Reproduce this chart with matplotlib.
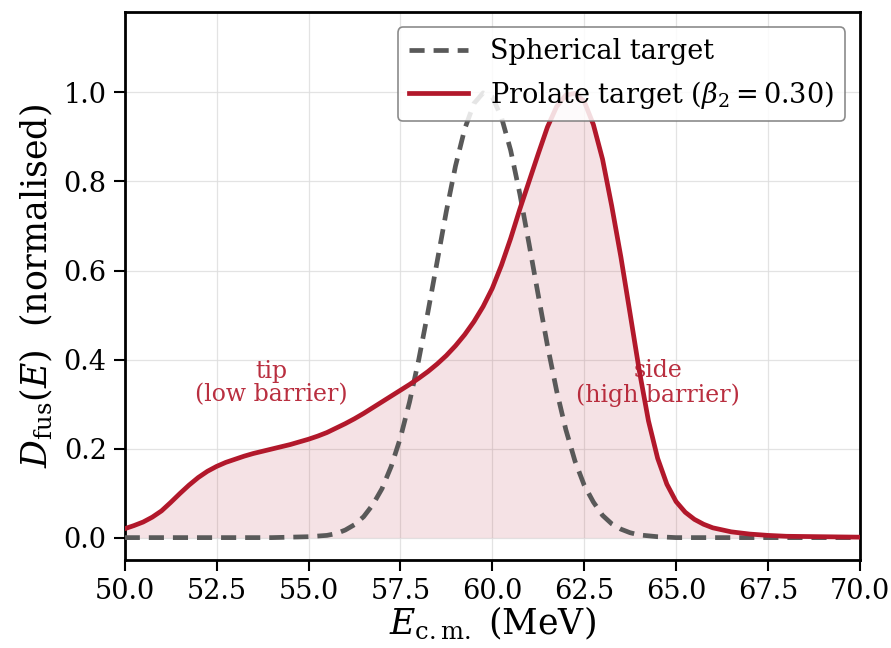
import matplotlib
matplotlib.use("Agg")
import matplotlib.pyplot as plt

plt.rcParams['font.family'] = 'DejaVu Serif'
plt.rcParams['mathtext.fontset'] = 'dejavuserif'

# Spherical target barrier distribution
e_sph = [50.0, 54.0, 55.0, 55.5, 55.75, 56.0, 56.25, 56.5, 56.75, 57.0, 57.25,
         57.5, 57.75, 58.0, 58.25, 58.5, 58.75, 59.0, 59.25, 59.5, 59.75,
         60.0, 60.25, 60.5, 60.75, 61.0, 61.25, 61.5, 61.75, 62.0, 62.25,
         62.5, 62.75, 63.0, 63.25, 63.5, 63.75, 64.0, 64.5, 65.0, 70.0]
d_sph = [0.0, 0.0, 0.002, 0.005, 0.009, 0.017, 0.029, 0.047, 0.074, 0.11, 0.16,
         0.224, 0.305, 0.40, 0.507, 0.62, 0.733, 0.835, 0.918, 0.975, 0.999,
         0.99, 0.944, 0.87, 0.772, 0.66, 0.545, 0.432, 0.33, 0.243, 0.172,
         0.118, 0.08, 0.05, 0.031, 0.019, 0.011, 0.006, 0.002, 0.0, 0.0]

# Prolate target (beta2 = 0.30)
e_pro = [50.0, 50.25, 50.5, 50.75, 51.0, 51.25, 51.5, 51.75, 52.0, 52.25,
         52.5, 52.75, 53.0, 53.25, 53.5, 53.75, 54.0, 54.25, 54.5, 54.75,
         55.0, 55.25, 55.5, 55.75, 56.0, 56.25, 56.5, 56.75, 57.0, 57.25,
         57.5, 57.75, 58.0, 58.25, 58.5, 58.75, 59.0, 59.25, 59.5, 59.75,
         60.0, 60.25, 60.5, 60.75, 61.0, 61.25, 61.5, 61.75, 62.0, 62.25,
         62.5, 62.75, 63.0, 63.25, 63.5, 63.75, 64.0, 64.25, 64.5, 64.75,
         65.0, 65.25, 65.5, 65.75, 66.0, 66.5, 67.0, 67.5, 68.0, 69.0, 70.0]
d_pro = [0.020, 0.027, 0.035, 0.046, 0.060, 0.079, 0.099, 0.118, 0.135, 0.149,
         0.160, 0.169, 0.176, 0.183, 0.189, 0.194, 0.199, 0.204, 0.209, 0.215,
         0.221, 0.228, 0.236, 0.246, 0.256, 0.267, 0.279, 0.292, 0.305, 0.318,
         0.331, 0.344, 0.358, 0.373, 0.390, 0.409, 0.431, 0.456, 0.485, 0.519,
         0.560, 0.612, 0.672, 0.738, 0.800, 0.862, 0.922, 0.968, 0.994, 0.998,
         0.980, 0.928, 0.850, 0.745, 0.630, 0.503, 0.375, 0.262, 0.178, 0.120,
         0.081, 0.057, 0.041, 0.030, 0.022, 0.013, 0.008, 0.005, 0.003, 0.002, 0.001]

red = '#b2182b'
grey = '#595959'

fig = plt.figure(figsize=(8.91, 6.48), dpi=100)
ax = fig.add_axes([0.140, 0.136, 0.825, 0.845])

ax.text(54.0, 0.347, 'tip\n(low barrier)', color=red, alpha=0.9, fontsize=17,
        ha='center', va='center', linespacing=1.05, zorder=1)
ax.text(64.5, 0.347, 'side\n(high barrier)', color=red, alpha=0.9, fontsize=17,
        ha='center', va='center', linespacing=1.05, zorder=1)

ax.fill_between(e_pro, 0, d_pro, color=red, alpha=0.12, linewidth=0, zorder=2)
ax.plot(e_sph, d_sph, '--', color=grey, lw=3.4, dashes=(3.2, 1.9),
        label='Spherical target', zorder=3)
ax.plot(e_pro, d_pro, '-', color=red, lw=3.4, label=r'Prolate target ($\beta_2 = 0.30$)',
        zorder=4, solid_joinstyle='round')

ax.set_xlim(50, 70)
ax.set_ylim(-0.05, 1.18)
ax.set_xticks([50, 52.5, 55, 57.5, 60, 62.5, 65, 67.5, 70])
ax.set_yticks([0.0, 0.2, 0.4, 0.6, 0.8, 1.0])
ax.xaxis.set_major_formatter(matplotlib.ticker.FormatStrFormatter('%.1f'))
ax.yaxis.set_major_formatter(matplotlib.ticker.FormatStrFormatter('%.1f'))
ax.tick_params(direction='out', length=8, width=1.5, labelsize=19.5, pad=5)
for s in ax.spines.values():
    s.set_linewidth(2)

ax.grid(True, color='#dddddd', lw=0.9, alpha=0.8)
ax.set_axisbelow(True)

ax.set_xlabel(r'$E_{\mathrm{c.m.}}$ (MeV)', fontsize=25, labelpad=0)
ax.set_ylabel(r'$D_{\mathrm{fus}}(E)$  (normalised)', fontsize=25, labelpad=6)

leg = ax.legend(loc='upper right', fontsize=19.5, framealpha=0.85, edgecolor='#777777',
                handlelength=2.2, borderaxespad=0.55)
leg.get_frame().set_linewidth(1.2)

fig.savefig('out.png', dpi=100)
